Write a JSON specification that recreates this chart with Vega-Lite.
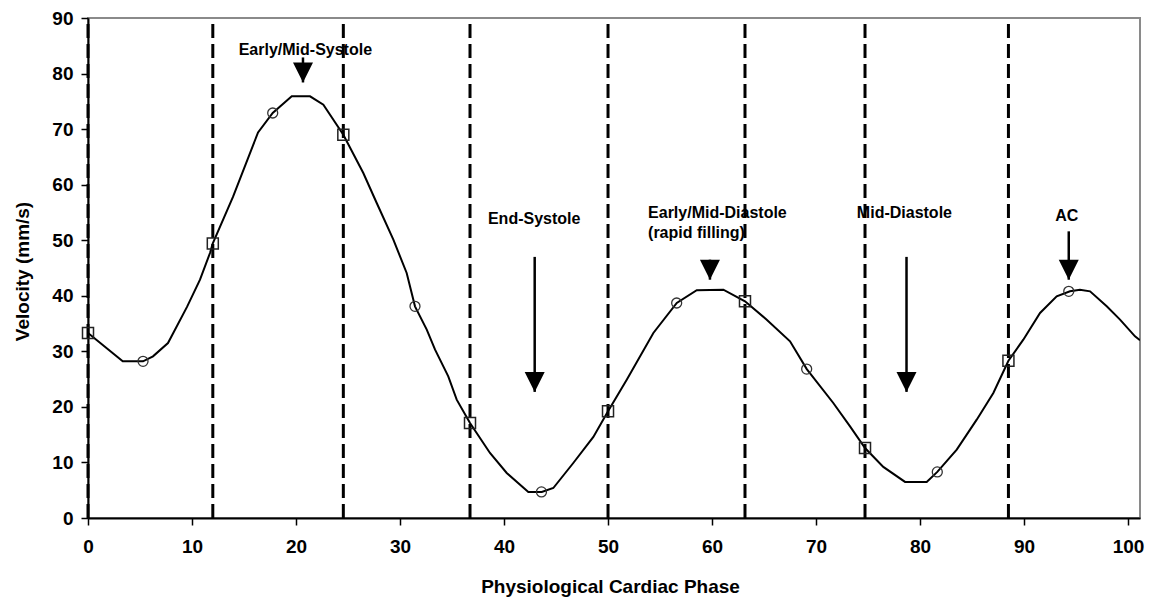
{
  "$schema": "https://vega.github.io/schema/vega-lite/v6.json",
  "width": 1052,
  "height": 500,
  "autosize": "none",
  "padding": {"left": 88, "top": 18, "right": 20, "bottom": 85},
  "background": "white",
  "config": {
    "view": {"stroke": "#8a8a8a", "strokeWidth": 2},
    "font": "Liberation Sans",
    "axis": {"grid": false, "domainColor": "#000", "domainWidth": 2, "tickColor": "#000", "tickWidth": 1.5, "tickSize": 7,
             "labelFont": "Liberation Sans", "labelFontWeight": "bold", "labelFontSize": 19, "labelColor": "#000", "labelFlush": false,
             "titleFont": "Liberation Sans", "titleFontWeight": "bold", "titleFontSize": 19, "titleColor": "#000"}
  },
  "datasets": {
    "curve": [
      {"phase": 0, "v": 33.3}, {"phase": 3.34, "v": 28.2}, {"phase": 5.29, "v": 28.2}, {"phase": 6.25, "v": 29.1},
      {"phase": 7.69, "v": 31.5}, {"phase": 9.52, "v": 38.0}, {"phase": 10.77, "v": 42.9}, {"phase": 11.73, "v": 47.7},
      {"phase": 11.99, "v": 49.4}, {"phase": 13.94, "v": 57.8}, {"phase": 16.35, "v": 69.4}, {"phase": 17.76, "v": 72.9},
      {"phase": 19.59, "v": 75.9}, {"phase": 21.35, "v": 75.9}, {"phase": 22.63, "v": 74.4}, {"phase": 24.55, "v": 69.0},
      {"phase": 26.47, "v": 62.1}, {"phase": 27.76, "v": 56.7}, {"phase": 29.36, "v": 50.1}, {"phase": 30.64, "v": 44.1},
      {"phase": 31.44, "v": 38.1}, {"phase": 32.57, "v": 33.9}, {"phase": 33.37, "v": 30.3}, {"phase": 34.64, "v": 25.5},
      {"phase": 35.45, "v": 21.3}, {"phase": 36.73, "v": 17.1}, {"phase": 38.65, "v": 11.7}, {"phase": 40.26, "v": 8.1},
      {"phase": 42.34, "v": 4.7}, {"phase": 43.63, "v": 4.7}, {"phase": 44.74, "v": 5.4}, {"phase": 46.66, "v": 9.9},
      {"phase": 48.59, "v": 14.6}, {"phase": 50.0, "v": 19.2}, {"phase": 51.8, "v": 24.9}, {"phase": 54.36, "v": 33.3},
      {"phase": 56.61, "v": 38.7}, {"phase": 58.53, "v": 41.0}, {"phase": 61.09, "v": 41.1}, {"phase": 63.17, "v": 39.0},
      {"phase": 65.26, "v": 35.7}, {"phase": 67.5, "v": 31.8}, {"phase": 69.11, "v": 26.8}, {"phase": 71.66, "v": 20.7},
      {"phase": 73.27, "v": 16.5}, {"phase": 74.71, "v": 12.6}, {"phase": 76.47, "v": 9.2}, {"phase": 78.56, "v": 6.5},
      {"phase": 80.64, "v": 6.5}, {"phase": 81.66, "v": 8.3}, {"phase": 83.53, "v": 12.3}, {"phase": 85.45, "v": 17.7},
      {"phase": 87.05, "v": 22.5}, {"phase": 88.5, "v": 28.3}, {"phase": 89.93, "v": 32.1}, {"phase": 91.54, "v": 36.9},
      {"phase": 93.14, "v": 39.9}, {"phase": 94.42, "v": 40.8}, {"phase": 95.38, "v": 41.1}, {"phase": 96.35, "v": 40.8},
      {"phase": 97.95, "v": 38.1}, {"phase": 99.23, "v": 35.7}, {"phase": 100.67, "v": 32.7}, {"phase": 101.15, "v": 32.0}
    ],
    "squares": [
      {"phase": 0, "v": 33.3}, {"phase": 12.0, "v": 49.4}, {"phase": 24.55, "v": 69.0}, {"phase": 36.73, "v": 17.1},
      {"phase": 50.0, "v": 19.2}, {"phase": 63.17, "v": 39.0}, {"phase": 74.71, "v": 12.6}, {"phase": 88.5, "v": 28.3}
    ],
    "circles": [
      {"phase": 5.29, "v": 28.2}, {"phase": 17.76, "v": 72.9}, {"phase": 31.44, "v": 38.1}, {"phase": 43.6, "v": 4.7},
      {"phase": 56.6, "v": 38.7}, {"phase": 69.1, "v": 26.8}, {"phase": 81.66, "v": 8.3}, {"phase": 94.3, "v": 40.8}
    ],
    "phases": [
      {"phase": 0}, {"phase": 12.0}, {"phase": 24.55}, {"phase": 36.73}, {"phase": 50.0}, {"phase": 63.17}, {"phase": 74.71}, {"phase": 88.5}
    ],
    "arrows": [
      {"x": 20.67, "top": 82.9, "tip": 78.4},
      {"x": 42.95, "top": 47.0, "tip": 22.7},
      {"x": 59.8, "top": 46.5, "tip": 42.9},
      {"x": 78.7, "top": 47.0, "tip": 22.7},
      {"x": 94.3, "top": 51.6, "tip": 42.9}
    ],
    "labels": [
      {"x": 20.9, "y": 84.3, "text": "Early/Mid-Systole"},
      {"x": 42.9, "y": 53.9, "text": "End-Systole"},
      {"x": 78.5, "y": 54.9, "text": "Mid-Diastole"},
      {"x": 94.1, "y": 54.3, "text": "AC"}
    ],
    "labelsLeft": [
      {"x": 53.85, "y": 54.9, "text": "Early/Mid-Diastole"},
      {"x": 53.85, "y": 51.3, "text": "(rapid filling)"}
    ]
  },
  "layer": [
    {
      "data": {"name": "phases"},
      "mark": {"type": "rule", "color": "#000", "strokeWidth": 3, "strokeDash": [14, 6]},
      "encoding": {
        "x": {"field": "phase", "type": "quantitative", "scale": {"domain": [0, 101.15], "nice": false, "zero": false},
              "axis": {"values": [0, 10, 20, 30, 40, 50, 60, 70, 80, 90, 100], "title": "Physiological Cardiac Phase",
                       "labelPadding": 12, "titleX": 522, "titleY": 68, "titleBaseline": "middle", "titleAlign": "center"}},
        "y": {"datum": 0, "type": "quantitative", "scale": {"domain": [0, 90], "nice": false},
              "axis": {"values": [0, 10, 20, 30, 40, 50, 60, 70, 80, 90], "title": "Velocity (mm/s)",
                       "labelPadding": 8, "titleX": -66, "titleY": 253, "titleAngle": -90, "titleBaseline": "middle", "titleAlign": "center"}},
        "y2": {"datum": 90}
      }
    },
    {
      "data": {"name": "curve"},
      "mark": {"type": "line", "color": "#000", "strokeWidth": 2, "interpolate": "linear", "clip": true},
      "encoding": {
        "x": {"field": "phase", "type": "quantitative"},
        "y": {"field": "v", "type": "quantitative"}
      }
    },
    {
      "data": {"name": "squares"},
      "mark": {"type": "point", "shape": "square", "size": 121, "filled": false, "stroke": "#222", "strokeWidth": 1.5, "opacity": 1},
      "encoding": {
        "x": {"field": "phase", "type": "quantitative"},
        "y": {"field": "v", "type": "quantitative"}
      }
    },
    {
      "data": {"name": "circles"},
      "mark": {"type": "point", "shape": "circle", "size": 100, "filled": false, "stroke": "#333", "strokeWidth": 1.3, "opacity": 1},
      "encoding": {
        "x": {"field": "phase", "type": "quantitative"},
        "y": {"field": "v", "type": "quantitative"}
      }
    },
    {
      "data": {"name": "arrows"},
      "mark": {"type": "rule", "color": "#000", "strokeWidth": 2.5},
      "encoding": {
        "x": {"field": "x", "type": "quantitative"},
        "y": {"field": "top", "type": "quantitative"},
        "y2": {"field": "tip"}
      }
    },
    {
      "data": {"name": "arrows"},
      "mark": {"type": "point", "shape": "M-1,-1L1,-1L0,1Z", "size": 400, "filled": true, "color": "#000", "opacity": 1, "yOffset": -10},
      "encoding": {
        "x": {"field": "x", "type": "quantitative"},
        "y": {"field": "tip", "type": "quantitative"}
      }
    },
    {
      "data": {"name": "labels"},
      "mark": {"type": "text", "font": "Liberation Sans", "fontWeight": "bold", "fontSize": 16, "baseline": "middle", "align": "center", "color": "#000"},
      "encoding": {
        "x": {"field": "x", "type": "quantitative"},
        "y": {"field": "y", "type": "quantitative"},
        "text": {"field": "text"}
      }
    },
    {
      "data": {"name": "labelsLeft"},
      "mark": {"type": "text", "font": "Liberation Sans", "fontWeight": "bold", "fontSize": 16, "baseline": "middle", "align": "left", "color": "#000"},
      "encoding": {
        "x": {"field": "x", "type": "quantitative"},
        "y": {"field": "y", "type": "quantitative"},
        "text": {"field": "text"}
      }
    }
  ]
}
